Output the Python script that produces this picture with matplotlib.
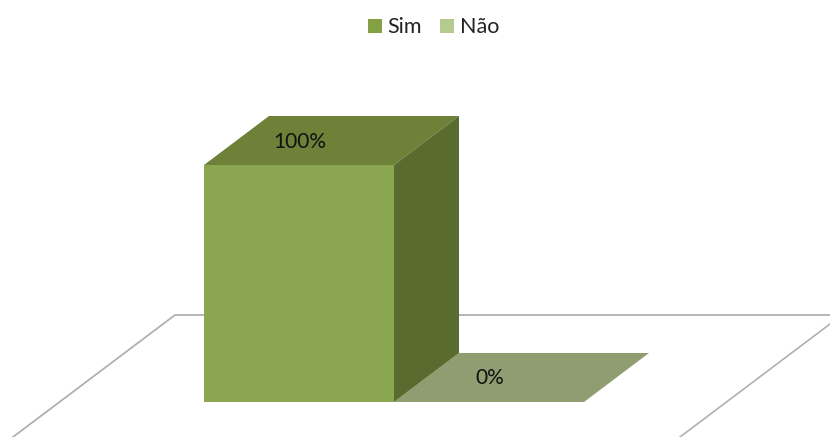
import matplotlib
matplotlib.use("Agg")
import matplotlib.pyplot as plt
from matplotlib.patches import Polygon, Rectangle

categories = ["Sim", "Não"]
values = [100, 0]
labels = ["100%", "0%"]
colors = ["#8ba651", "#b5cb8e"]

plt.rcParams['font.family'] = ['Lato', 'DejaVu Sans']

fig = plt.figure(figsize=(8.30, 4.37), dpi=100)
ax = fig.add_axes([0, 0, 1, 1])
ax.set_xlim(0, 830)
ax.set_ylim(437, 0)
ax.axis("off")

# floor
ax.plot([13, 175, 830], [437, 315, 315], color="#b0b0b0", lw=1.3)
ax.plot([680, 830], [437, 324], color="#b0b0b0", lw=1.2)

# pixels per percent, bar grows up from the baseline
base = 402
scale = (402 - 165) / 100
bar_w = 190
dx, dy = 65, 49
xs = [204, 394]

# Sim bar
h = values[0] * scale
x = xs[0]
top = base - h
ax.add_patch(Rectangle((x, top), bar_w, h, fc=colors[0], ec="none", zorder=3))
ax.add_patch(Polygon([(x, top), (x + bar_w, top), (x + bar_w + dx, top - dy), (x + dx, top - dy)],
                     fc="#6e8139", ec="none", zorder=3))
ax.add_patch(Polygon([(x + bar_w, top), (x + bar_w + dx, top - dy), (x + bar_w + dx, base - dy), (x + bar_w, base)],
                     fc="#5a6b30", ec="none", zorder=3))
ax.text(299.5, 142.5, labels[0], ha="center", va="center", fontsize=15, color="#111111", zorder=4)

# Nao bar is flat, only the lid shows
h = values[1] * scale
x = xs[1]
top = base - h
ax.add_patch(Polygon([(x, top), (x + bar_w, top), (x + bar_w + dx, top - dy), (x + dx, top - dy)],
                     fc="#8f9d70", ec="none", zorder=2))
ax.text(490, 378.5, labels[1], ha="center", va="center", fontsize=15, color="#111111", zorder=4)

# legend
ax.add_patch(Rectangle((368, 19), 14, 14, fc="#84a044", ec="none"))
ax.text(387, 27, categories[0], ha="left", va="center", fontsize=15.5, color="#222222")
ax.add_patch(Rectangle((440, 19), 14, 14, fc=colors[1], ec="none"))
ax.text(460, 27, categories[1], ha="left", va="center", fontsize=15.5, color="#222222")

fig.savefig("out.png", dpi=100)
